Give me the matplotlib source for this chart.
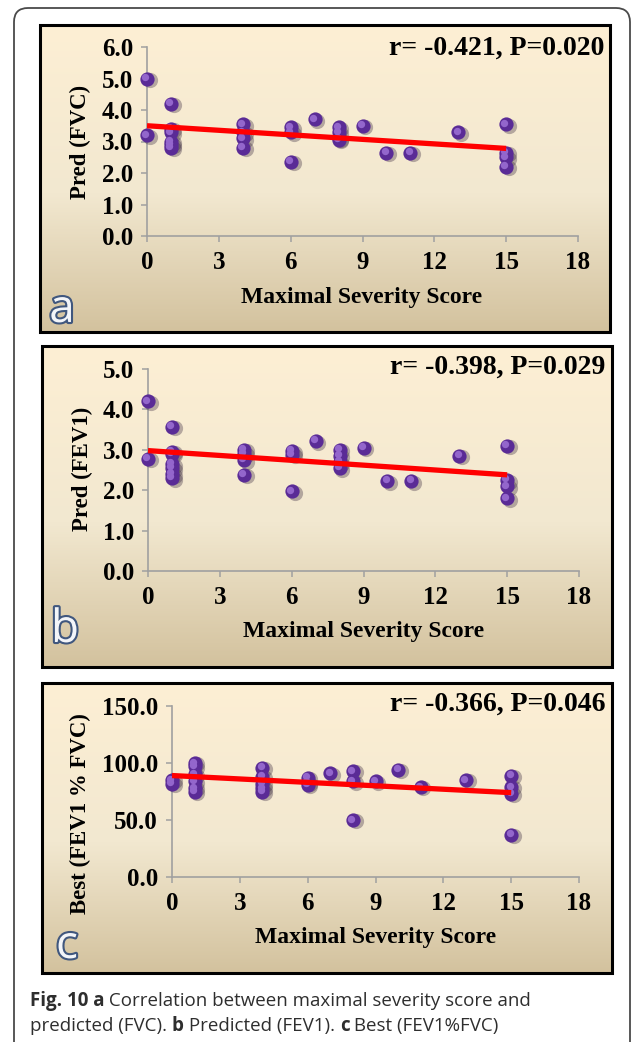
import numpy as np
import matplotlib
matplotlib.use("Agg")
import matplotlib.pyplot as plt
from matplotlib.patches import FancyBboxPatch, Rectangle
from matplotlib.colors import LinearSegmentedColormap
import matplotlib.patheffects as pe

W, H = 633, 1042

# ---- data ----
score_a = [0, 0, 1, 1, 1, 1, 1, 1, 4, 4, 4, 4, 6, 6, 6, 7, 8, 8, 8, 8, 9, 10, 11, 13, 15, 15, 15, 15]
pred_fvc = [5.0, 3.2, 4.2, 3.4, 3.3, 3.0, 2.9, 2.8, 3.55, 3.3, 3.1, 2.8, 3.45, 3.3, 2.35, 3.7,
            3.45, 3.3, 3.1, 3.05, 3.5, 2.65, 2.65, 3.3, 3.55, 2.65, 2.5, 2.2]
trend_fvc = [3.50, 2.78]

score_b = [0, 0, 1, 1, 1, 1, 1, 1, 1, 4, 4, 4, 4, 6, 6, 6, 7, 8, 8, 8, 8, 9, 10, 11, 13, 15, 15, 15, 15]
pred_fev1 = [4.2, 2.78, 3.57, 2.95, 2.9, 2.65, 2.55, 2.4, 2.3, 3.0, 2.9, 2.75, 2.38, 2.97, 2.88, 1.97,
             3.22, 3.0, 2.85, 2.7, 2.55, 3.05, 2.23, 2.23, 2.85, 3.1, 2.25, 2.1, 1.8]
trend_fev1 = [2.98, 2.38]

score_c = [0, 0, 1, 1, 1, 1, 1, 1, 4, 4, 4, 4, 4, 6, 6, 6, 7, 8, 8, 8, 9, 10, 11, 13, 15, 15, 15, 15]
best_ratio = [85, 82, 100, 97, 90, 84, 78, 75, 96, 88, 82, 78, 75, 87, 83, 81, 91, 93, 84, 50,
              84, 94, 79, 85, 89, 79, 73, 37]
trend_ratio = [89, 74]

trend_x = [0, 15]
x_ticks = [0, 3, 6, 9, 12, 15, 18]

panels = [
    dict(x=score_a, y=pred_fvc, trend=trend_fvc, ylim=6.0, yticks=[0, 1, 2, 3, 4, 5, 6],
         ylabel="Pred (FVC)", stat="r= -0.421, P=0.020", letter="a",
         box=(40, 25, 610, 332), ax=(147, 236, 578, 47), ylab=(80, 142), xlab=(362, 297),
         stat_pos=(604, 48), letter_pos=(62, 310)),
    dict(x=score_b, y=pred_fev1, trend=trend_fev1, ylim=5.0, yticks=[0, 1, 2, 3, 4, 5],
         ylabel="Pred (FEV1)", stat="r= -0.398, P=0.029", letter="b",
         box=(42, 346, 612, 667), ax=(148, 571, 579, 369), ylab=(82, 469), xlab=(364, 632),
         stat_pos=(605, 367), letter_pos=(65, 630)),
    dict(x=score_c, y=best_ratio, trend=trend_ratio, ylim=150.0, yticks=[0, 50, 100, 150],
         ylabel="Best (FEV1 % FVC)", stat="r= -0.366, P=0.046", letter="c",
         box=(42, 683, 612, 973), ax=(172, 877, 579, 706), ylab=(80, 814), xlab=(376, 937),
         stat_pos=(605, 704), letter_pos=(67, 946)),
]

serif = "Liberation Serif"
fig = plt.figure(figsize=(W / 100, H / 100), dpi=100)
fig.patch.set_facecolor("white")

# canvas axes in pixel coordinates for frames and backgrounds
cv = fig.add_axes([0, 0, 1, 1], zorder=0)
cv.set_xlim(0, W)
cv.set_ylim(H, 0)
cv.axis("off")

cv.add_patch(FancyBboxPatch((14, 8), 616, 1100, boxstyle="round,pad=0,rounding_size=14",
                            fc="white", ec="#4a4a4a", lw=1.3))

grad = LinearSegmentedColormap.from_list(
    "bg", [(0, "#fdefd4"), (0.55, "#f2e8d0"), (1, "#d3c29e")])
for p in panels:
    x0, y0, x1, y1 = p["box"]
    cv.imshow(np.linspace(0, 1, 200).reshape(-1, 1), cmap=grad, aspect="auto",
              extent=(x0, x1, y1, y0), zorder=1)
    cv.add_patch(Rectangle((x0, y0), x1 - x0, y1 - y0, fc="none", ec="black", lw=2.2, zorder=2))
cv.set_xlim(0, W)
cv.set_ylim(H, 0)


def px_axes(left, bottom, right, top):
    return [left / W, 1 - bottom / H, (right - left) / W, (bottom - top) / H]


for p in panels:
    ax = fig.add_axes(px_axes(*p["ax"]), zorder=2)
    ax.patch.set_alpha(0)
    ax.set_xlim(0, 18)
    ax.set_ylim(0, p["ylim"])
    ax.set_xticks(x_ticks)
    ax.set_yticks(p["yticks"])
    ax.set_yticklabels(["%.1f" % v for v in p["yticks"]])
    for s in ["top", "right"]:
        ax.spines[s].set_visible(False)
    for s in ["left", "bottom"]:
        ax.spines[s].set_color("#a0a0a0")
        ax.spines[s].set_linewidth(1.2)
    ax.tick_params(direction="out", length=4, width=1.1, color="#a0a0a0", labelsize=18)
    ax.tick_params(axis="x", pad=7)
    ax.tick_params(axis="y", pad=6)
    for lab in ax.get_xticklabels() + ax.get_yticklabels():
        lab.set_fontfamily(serif)
        lab.set_fontweight("bold")

    # shadow, sphere body, highlight
    ax.scatter(np.array(p["x"]) + 0.12, np.array(p["y"]) - p["ylim"] * 0.008, s=120,
               color="#3a2a40", alpha=0.35, lw=0, clip_on=False, zorder=3)
    ax.scatter(p["x"], p["y"], s=105, color="#5a2b96", lw=0, clip_on=False, zorder=4)
    ax.scatter(np.array(p["x"]) - 0.07, np.array(p["y"]) + p["ylim"] * 0.008, s=28,
               color="#9366cc", lw=0, clip_on=False, zorder=5)
    ax.plot(trend_x, p["trend"], color="#ff0000", lw=3.8, solid_capstyle="butt", zorder=6)

    fig.text(p["ylab"][0] / W, 1 - p["ylab"][1] / H, p["ylabel"], rotation=90,
             ha="center", va="center", fontsize=16.5, fontweight="bold", family=serif)
    fig.text(p["xlab"][0] / W, 1 - p["xlab"][1] / H, "Maximal Severity Score",
             ha="center", va="center", fontsize=17, fontweight="bold", family=serif)
    fig.text(p["stat_pos"][0] / W, 1 - p["stat_pos"][1] / H, p["stat"],
             ha="right", va="center", fontsize=20, fontweight="bold", family=serif)
    fig.text(p["letter_pos"][0] / W, 1 - p["letter_pos"][1] / H, p["letter"],
             ha="center", va="center", fontsize=33, family="Open Sans", color="#f3f5f9",
             path_effects=[pe.withStroke(linewidth=3, foreground="#40577e")])

# caption with mixed bold / regular pieces
cap_lines = [
    [("Fig. 10 a", "bold"), (" Correlation between maximal severity score and", "normal")],
    [("predicted (FVC). ", "normal"), ("b", "bold"), (" Predicted (FEV1). ", "normal"),
     ("c", "bold"), (" Best (FEV1%FVC)", "normal")],
]
cap_base = [1006, 1031]
fig.canvas.draw()
renderer = fig.canvas.get_renderer()
for pieces, yb in zip(cap_lines, cap_base):
    x = 30
    for txt, wt in pieces:
        t = fig.text(x / W, 1 - yb / H, txt, ha="left", va="baseline", fontsize=13.5,
                     fontweight=wt, family="Open Sans", color="#2e2e2e")
        bb = t.get_window_extent(renderer)
        x += bb.width

fig.savefig("out.png", dpi=100)
